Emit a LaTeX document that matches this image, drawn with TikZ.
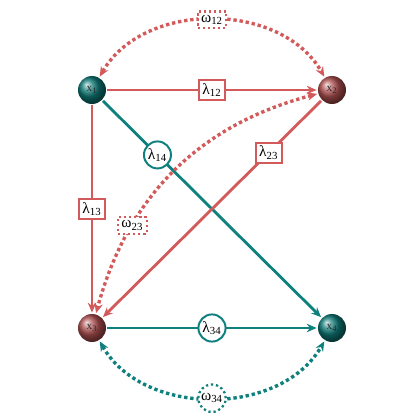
\documentclass[tikz,border=0pt]{standalone}
\usepackage{fontspec}
\setmainfont{Liberation Serif}
\usetikzlibrary{arrows.meta, positioning, shapes.geometric}
\definecolor{cred}{HTML}{D35A5A}
\definecolor{cteal}{HTML}{0E807D}
\definecolor{bred}{HTML}{B05050}
\definecolor{bteal}{HTML}{0E7A78}
\tikzset{
  every picture/.style={line width=2pt},
  var/.style={circle, shading=ball, ball color=#1, minimum size=0.7cm, inner sep=0pt, font=\footnotesize, text=black!85},
  link/.style={draw=#1, -{Stealth[length=7pt, width=6pt]}},
  cov/.style={draw=#1, line width=2.4pt, dotted, {Stealth[length=7pt, width=6pt]}-{Stealth[length=7pt, width=6pt]}},
  lab/.style={draw=#1, fill=white, text=black, inner sep=2.5pt, line width=1.4pt, solid, font=\fontsize{11}{13}\selectfont},
  dlab/.style={lab=#1, line width=1.6pt, dotted},
}

\begin{document}
\begin{tikzpicture}
  \useasboundingbox (0,0) rectangle (10.5,10.5);
  \foreach \i/\X/\Y/\c in {1/2.3/8.25/bteal, 2/8.3/8.25/bred, 3/2.3/2.3/bred, 4/8.3/2.3/bteal} {
    \node[var=\c] (x\i) at (\X,\Y) {x\textsubscript{\i}};
  }
  % loadings
  \draw[link=cred] (x1) -- node[lab=cred] {λ\textsubscript{12}} (x2);
  \draw[link=cred] (x1) -- node[lab=cred] {λ\textsubscript{13}} (x3);
  \draw[link=cteal] (x1) -- node[lab=cteal, circle, inner sep=1pt, pos=0.25] {λ\textsubscript{14}} (x4);
  \draw[link=cred] (x2) -- node[lab=cred, pos=0.24] {λ\textsubscript{23}} (x3);
  \draw[link=cteal] (x3) -- node[lab=cteal, circle, inner sep=1pt] {λ\textsubscript{34}} (x4);
  % covariances
  \draw[cov=cred] (x1) to[bend left=60] node[dlab=cred] {ω\textsubscript{12}} (x2);
  \draw[cov=cred] (x2) to[bend right=30] node[dlab=cred, pos=0.72] {ω\textsubscript{23}} (x3);
  \draw[cov=cteal] (x3) to[bend right=60] node[dlab=cteal, circle, inner sep=1pt] {ω\textsubscript{34}} (x4);
\end{tikzpicture}
\end{document}
